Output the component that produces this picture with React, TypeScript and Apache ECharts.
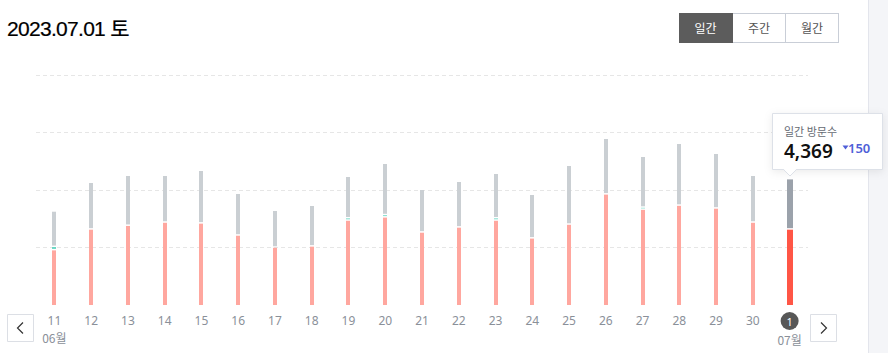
import React, { useEffect, useRef } from 'react';
import * as echarts from 'echarts';

// ---- data ----
const days = ['11', '12', '13', '14', '15', '16', '17', '18', '19', '20', '21', '22', '23', '24', '25', '26', '27', '28', '29', '30', '1'];
const monthLabels = ['06월', '', '', '', '', '', '', '', '', '', '', '', '', '', '', '', '', '', '', '', '07월'];
const newVisits = [1900, 2620, 2750, 2860, 2830, 2410, 1990, 2030, 2930, 3040, 2515, 2690, 2930, 2310, 2790, 3840, 3310, 3450, 3350, 2860, 2620];
const tealVisits = [115, 0, 0, 0, 0, 0, 0, 0, 80, 80, 0, 0, 80, 0, 0, 0, 70, 0, 0, 0, 0];
const grayVisits = [1230, 1623, 1737, 1627, 1831, 1451, 1279, 1413, 1442, 1784, 1485, 1588, 1546, 1516, 2044, 1933, 1767, 2150, 1902, 1627, 1749];
const yMin = 0;
const yMax = 8000;
const yInterval = 2000;
const selectedIndex = 20;
const titleText = '2023.07.01 토';
const periodButtons = ['일간', '주간', '월간'];
const tooltipTitle = '일간 방문수';
const tooltipValue = '4,369';
const tooltipDelta = '150';

const RED = '#ffa79f';
const RED_SEL = '#ff5646';
const GRAY = '#cacfd3';
const GRAY_SEL = '#9ba2ab';
const TEAL = '#5fd4c0';
const FONT = "'Noto Sans', 'Noto Sans CJK KR', sans-serif";
const KFONT = "'Noto Sans CJK KR', 'Noto Sans', sans-serif";

export default function App() {
  const ref = useRef<HTMLDivElement>(null);

  useEffect(() => {
    if (!ref.current) return;
    const chart = echarts.init(ref.current, undefined, { renderer: 'svg' });
    const data = days.map((_, i) => [i, newVisits[i], tealVisits[i], grayVisits[i]]);

    chart.setOption({
      animation: false,
      grid: { left: 36, right: 80, top: 75, bottom: 48 },
      xAxis: {
        type: 'category',
        data: days,
        boundaryGap: true,
        axisLine: { show: false },
        axisTick: { show: false },
        axisLabel: {
          interval: 0,
          margin: 7,
          fontFamily: FONT,
          formatter: (v: string, i: number) => {
            const d = i === selectedIndex ? `{sel|${v}}` : `{d|${v}}`;
            return monthLabels[i] ? `${d}\n{m|${monthLabels[i]}}` : d;
          },
          rich: {
            d: { fontSize: 12, color: '#8a9099', lineHeight: 16, fontFamily: FONT },
            m: { fontSize: 12, color: '#8a9099', lineHeight: 19, fontFamily: KFONT },
            sel: {
              fontSize: 11, color: '#ffffff', backgroundColor: '#575757', borderRadius: 9,
              width: 18, height: 18, lineHeight: 18, align: 'center', fontFamily: FONT,
            },
          },
        },
      },
      yAxis: {
        type: 'value',
        min: yMin,
        max: yMax,
        interval: yInterval,
        axisLabel: { show: false },
        axisLine: { show: false },
        axisTick: { show: false },
        splitLine: {
          show: true,
          lineStyle: {
            color: ['rgba(0,0,0,0)', '#e6e6e6', '#e6e6e6', '#e6e6e6', '#e6e6e6'],
            type: [4, 3],
            width: 1,
          },
        },
      },
      series: [
        {
          type: 'custom',
          data,
          encode: { x: 0, y: [1, 2, 3] },
          renderItem: (_params: any, api: any) => {
            const i = api.value(0);
            const r = api.value(1);
            const t = api.value(2);
            const g = api.value(3);
            const sel = i === selectedIndex;
            const w = sel ? 6 : 4;
            const base = api.coord([i, 0]);
            const x = Math.round(base[0] - w / 2);
            const yR = api.coord([i, r])[1];
            const yT = api.coord([i, r + t])[1];
            const yG = api.coord([i, r + t + g])[1];
            const gap = 1.5;
            const children: any[] = [];
            children.push({
              type: 'rect',
              shape: { x, y: yR, width: w, height: base[1] - yR },
              style: { fill: sel ? RED_SEL : RED },
            });
            let top = yR;
            if (t > 0) {
              children.push({
                type: 'rect',
                shape: { x, y: yT, width: w, height: Math.max(0, top - gap - yT) },
                style: { fill: TEAL },
              });
              top = yT;
            }
            children.push({
              type: 'rect',
              shape: { x, y: yG, width: w, height: Math.max(0, top - gap - yG) },
              style: { fill: sel ? GRAY_SEL : GRAY },
            });
            return { type: 'group', children };
          },
        },
      ],
      graphic: [
        // right side panel
        { type: 'rect', z: 1, shape: { x: 868, y: 0, width: 20, height: 353 }, style: { fill: '#f4f5f8' } },
        { type: 'line', z: 1, shape: { x1: 868.5, y1: 0, x2: 868.5, y2: 353 }, style: { stroke: '#e3e5ec', lineWidth: 1 } },
        // nav buttons
        { type: 'rect', z: 5, shape: { x: 7.5, y: 314.5, width: 26, height: 27 }, style: { fill: '#fff', stroke: '#dcdfe5', lineWidth: 1 } },
        { type: 'polyline', z: 6, shape: { points: [[23, 322.5], [17.5, 328], [23, 333.5]] }, style: { stroke: '#333', lineWidth: 1.2, fill: 'none' } },
        { type: 'rect', z: 5, shape: { x: 810.5, y: 314.5, width: 26, height: 27 }, style: { fill: '#fff', stroke: '#dcdfe5', lineWidth: 1 } },
        { type: 'polyline', z: 6, shape: { points: [[821, 322.5], [826.5, 328], [821, 333.5]] }, style: { stroke: '#333', lineWidth: 1.2, fill: 'none' } },
        // tooltip
        {
          type: 'rect', z: 10,
          shape: { x: 772.5, y: 113.5, width: 110, height: 56 },
          style: { fill: '#fff', stroke: '#dde1e8', lineWidth: 1, shadowBlur: 8, shadowColor: 'rgba(0,0,0,0.08)', shadowOffsetY: 2 },
        },
        { type: 'polygon', z: 11, shape: { points: [[783.5, 169], [796.5, 169], [790, 175.5]] }, style: { fill: '#fff' } },
        { type: 'polyline', z: 12, shape: { points: [[783.5, 169.5], [790, 176], [796.5, 169.5]] }, style: { stroke: '#dde1e8', lineWidth: 1, fill: 'none' } },
        {
          type: 'text', z: 13, x: 784, y: 131,
          style: { text: tooltipTitle, fill: '#666b73', font: `11px ${KFONT}`, textVerticalAlign: 'middle' },
        },
        {
          type: 'text', z: 13, x: 784, y: 151,
          style: { text: tooltipValue, fill: '#111', font: `600 19px ${FONT}`, textVerticalAlign: 'middle' },
        },
        { type: 'polygon', z: 13, shape: { points: [[842.5, 145.5], [848.5, 145.5], [845.5, 149.5]] }, style: { fill: '#4f5fd8' } },
        {
          type: 'text', z: 13, x: 848, y: 147.5,
          style: { text: tooltipDelta, fill: '#4f5fd8', font: `600 13px ${FONT}`, textVerticalAlign: 'middle' },
        },
      ],
    });

    return () => chart.dispose();
  }, []);

  return (
    <div style={{ position: 'fixed', left: 0, top: 0, width: 888, height: 353, background: '#fff', overflow: 'hidden' }}>
      <div ref={ref} style={{ position: 'absolute', left: 0, top: 0, width: 888, height: 353 }} />
      <div
        style={{
          position: 'absolute', left: 7, top: 17, fontSize: 21, lineHeight: '24px', color: '#000',
          letterSpacing: '-0.7px', fontFamily: "'Liberation Sans', Arial, 'Noto Sans CJK KR', sans-serif",
          whiteSpace: 'nowrap', WebkitTextStroke: '0.2px #000',
        }}
      >
        {titleText}
      </div>
      <div style={{ position: 'absolute', left: 679, top: 13, display: 'flex', height: 30 }}>
        {periodButtons.map((b, i) => (
          <div
            key={b}
            style={{
              boxSizing: 'border-box',
              width: i === 0 ? 54 : 53,
              height: 30,
              lineHeight: '28px',
              textAlign: 'center',
              fontSize: 12,
              fontFamily: KFONT,
              background: i === 0 ? '#5c5c5c' : '#fff',
              color: i === 0 ? '#fff' : '#555',
              border: `1px solid ${i === 0 ? '#5c5c5c' : '#c9ced7'}`,
              borderLeft: i === 2 ? 'none' : undefined,
            }}
          >
            {b}
          </div>
        ))}
      </div>
    </div>
  );
}
